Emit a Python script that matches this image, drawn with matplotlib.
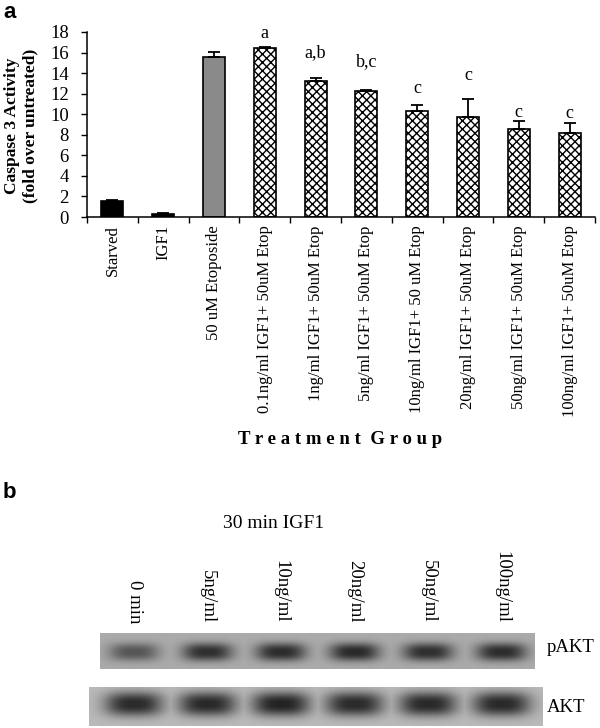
import numpy as np
import matplotlib
matplotlib.use('Agg')
import matplotlib.pyplot as plt

plt.rcParams['font.family'] = ['Liberation Serif', 'DejaVu Serif']
plt.rcParams['hatch.linewidth'] = 1.0

# panel a data
groups = ['Starved', 'IGF1', '50 uM Etoposide',
          '0.1ng/ml IGF1+ 50uM Etop', '1ng/ml IGF1+ 50uM Etop',
          '5ng/ml IGF1+ 50uM Etop', '10ng/ml IGF1+ 50 uM Etop',
          '20ng/ml IGF1+ 50uM Etop', '50ng/ml IGF1+ 50uM Etop',
          '100ng/ml IGF1+ 50uM Etop']
activity = [1.6, 0.3, 15.6, 16.4, 13.2, 12.3, 10.3, 9.7, 8.6, 8.2]
err = [0.1, 0.05, 0.45, 0.1, 0.35, 0.1, 0.6, 1.8, 0.75, 0.9]
letters = ['', '', '', 'a', 'a,b', 'b,c', 'c', 'c', 'c', 'c']
letter_y = [0, 0, 0, 17.9, 15.95, 15.1, 12.55, 13.8, 10.2, 10.1]

# panel b data
lanes = ['0 min', '5ng/ml', '10ng/ml', '20ng/ml', '50ng/ml', '100ng/ml']
pakt = [0.6, 0.88, 0.9, 0.92, 0.88, 0.9]
akt = [0.92, 0.93, 0.97, 0.92, 0.93, 0.93]

W, H = 600, 728
fig = plt.figure(figsize=(6, 7.28), dpi=100)

# ---- panel a ----
ax = fig.add_axes([87 / W, 1 - 217 / H, 508 / W, 185 / H])
x = np.arange(len(groups))
fills = ['black', 'black', '#8a8a8a'] + ['white'] * 7
hatches = [None, None, None] + ['xxxx'] * 7
for i in range(len(groups)):
    ax.bar(x[i], activity[i], width=0.43, color=fills[i], edgecolor='black',
           linewidth=1.2, hatch=hatches[i], zorder=2)
ax.errorbar(x, activity, yerr=[np.zeros(len(err)), err], fmt='none',
            ecolor='black', elinewidth=1.3, capsize=4.5, capthick=1.3, zorder=3)
for i in range(len(groups)):
    if letters[i]:
        ax.text(x[i], letter_y[i], letters[i], ha='center', va='center', fontsize=13)

ax.set_xlim(-0.5, 9.5)
ax.set_ylim(0, 18)
ax.set_yticks(range(0, 19, 2))
ax.tick_params(axis='y', length=4, width=1, pad=9, labelsize=13.5)
ax.set_xticks(np.arange(-0.5, 10, 1))
ax.set_xticklabels([])
ax.set_xticks(x, minor=True)
ax.set_xticklabels(groups, minor=True, rotation=90, fontsize=12, va='top')
ax.tick_params(axis='x', which='major', length=4, width=1)
ax.tick_params(axis='x', which='minor', length=0, pad=6)
for s in ['top', 'right']:
    ax.spines[s].set_visible(False)
for s in ['left', 'bottom']:
    ax.spines[s].set_linewidth(1.1)

fig.text(21 / W, 1 - 126 / H, 'Caspase 3 Activity\n(fold over untreated)',
         rotation=90, ha='center', va='center', fontsize=12.5, fontweight='bold',
         linespacing=1.15)
fig.text(340 / W, 1 - 440 / H, 'T r e a t m e n t  G r o u p', ha='center',
         va='center', fontsize=13.5, fontweight='bold')
fig.text(3 / W, 1 - 12 / H, 'a', family='Liberation Sans', fontweight='bold',
         fontsize=16, ha='left', va='center')

# ---- panel b ----
bx = fig.add_axes([0, 0, 1, 1 - 480 / H])
bx.axis('off')

fig.text(3 / W, 1 - 493 / H, 'b', family='Liberation Sans', fontweight='bold',
         fontsize=16, ha='left', va='center')
bx.text(223, 523, '30 min IGF1', ha='left', va='center', fontsize=14)

lane_x = 134 + 73.5 * np.arange(len(lanes))
for lx, name in zip(lane_x, lanes):
    bx.text(lx, 623, name, rotation=270, ha='center', va='bottom', fontsize=13.5)


def blot(x0, x1, y0, y1, strength, bg, half_w, half_h, cy):
    xs = np.arange(x0, x1) + 0.5
    ys = np.arange(y0, y1) + 0.5
    gx, gy = np.meshgrid(xs, ys)
    img = np.full(gx.shape, float(bg))
    dark = np.zeros(gx.shape)
    for lx, s in zip(lane_x, strength):
        r = np.abs((gx - lx) / half_w) ** 3 + np.abs((gy - cy) / half_h) ** 2.5
        dark = np.maximum(dark, s * np.exp(-r))
    img = img - dark * (bg - 30)
    bx.imshow(img, cmap='gray', vmin=0, vmax=255, extent=[x0, x1, y1, y0],
              aspect='auto', interpolation='bilinear')


blot(100, 535, 633, 669, pakt, 170, 25, 9, 652)
blot(89, 543, 687, 726, akt, 185, 29, 12, 704)
bx.set_xlim(0, W)
bx.set_ylim(H, 480)

bx.text(547, 647, 'pAKT', ha='left', va='center', fontsize=13.5)
bx.text(547, 707, 'AKT', ha='left', va='center', fontsize=13.5)

fig.savefig('out.png', dpi=100, facecolor='white')
